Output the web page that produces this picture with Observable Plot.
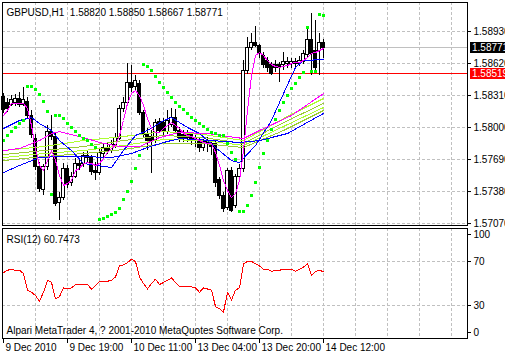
<!DOCTYPE html>
<html><head><meta charset="utf-8">
<script src="https://cdn.jsdelivr.net/npm/d3@7"></script>
<script src="https://cdn.jsdelivr.net/npm/@observablehq/plot@0.6"></script>
<style>
body{margin:0;background:#fff;}
#wrap{position:relative;width:505px;height:355px;overflow:hidden;background:#fff;}
#wrap svg{position:absolute;left:0;}
.tag{position:absolute;left:470px;width:35px;height:11px;font:10px "Liberation Sans",Arial,sans-serif;line-height:11px;padding-left:2px;color:#fff;white-space:nowrap;overflow:hidden;}
</style></head><body><div id="wrap"></div>
<script>
// ---- data ----
const symbol = "GBPUSD,H1";
const lastOHLC = ["1.58820", "1.58850", "1.58667", "1.58771"];
const open = [1.58291,1.58233,1.58223,1.58233,1.58281,1.58223,1.58252,1.58116,1.57893,1.57622,
 1.57399,1.57622,1.57961,1.57913,1.57273,1.57322,1.57603,1.57458,1.57525,1.57651,
 1.57642,1.57729,1.57700,1.57583,1.57564,1.57748,1.57806,1.57777,1.57826,1.57893,
 1.58184,1.58233,1.58436,1.58388,1.58426,1.58145,1.57942,1.57913,1.57874,1.58058,
 1.58048,1.57952,1.58029,1.58097,1.57971,1.57932,1.57903,1.57923,1.57893,1.57855,
 1.57797,1.57874,1.57845,1.57845,1.57487,1.57341,1.57225,1.57583,1.57244,1.57516,
 1.57603,1.58552,1.58775,1.58823,1.58785,1.58688,1.58649,1.58601,1.58601,1.58601,
 1.58601,1.58620,1.58611,1.58630,1.58620,1.58630,1.58698,1.58843,1.58746,1.58746,
 1.58820];
const close = [1.58165,1.58184,1.58271,1.58281,1.58223,1.58262,1.58116,1.57923,1.57622,1.57409,
 1.57613,1.57961,1.57913,1.57264,1.57322,1.57603,1.57448,1.57525,1.57651,1.57632,
 1.57729,1.57700,1.57574,1.57564,1.57758,1.57806,1.57777,1.57835,1.57903,1.58184,
 1.58233,1.58436,1.58378,1.58455,1.58145,1.57923,1.57874,1.57874,1.58048,1.57971,
 1.57971,1.58068,1.58097,1.57971,1.57903,1.57903,1.57932,1.57893,1.57874,1.57797,
 1.57855,1.57845,1.57816,1.57458,1.57341,1.57215,1.57583,1.57196,1.57516,1.57603,
 1.58552,1.58775,1.58823,1.58794,1.58717,1.58601,1.58572,1.58523,1.58572,1.58572,
 1.58630,1.58630,1.58630,1.58611,1.58649,1.58717,1.58843,1.58717,1.58581,1.58814,
 1.58771];
const high = [1.58329,1.58281,1.58310,1.58320,1.58339,1.58388,1.58291,1.58165,1.57932,1.57661,
 1.57642,1.58019,1.58116,1.57952,1.57370,1.57651,1.57632,1.57564,1.57700,1.57700,
 1.57758,1.57777,1.57729,1.57661,1.57797,1.57835,1.57845,1.57874,1.57942,1.58213,
 1.58291,1.58620,1.58601,1.58504,1.58455,1.58165,1.57990,1.57971,1.58078,1.58087,
 1.58087,1.58165,1.58184,1.58174,1.58000,1.57971,1.57971,1.57952,1.57923,1.57893,
 1.57884,1.57903,1.57874,1.57874,1.57516,1.57370,1.57603,1.57613,1.57545,1.57642,
 1.58649,1.58872,1.58911,1.58978,1.58804,1.58727,1.58678,1.58630,1.58649,1.58630,
 1.58727,1.58678,1.58668,1.58668,1.58688,1.58746,1.58969,1.59104,1.59037,1.58911,
 1.58850];
const low = [1.58136,1.58145,1.58204,1.58204,1.58194,1.58204,1.58087,1.57893,1.57583,1.57370,
 1.57341,1.57583,1.57874,1.57235,1.57099,1.57293,1.57409,1.57428,1.57506,1.57583,
 1.57613,1.57651,1.57535,1.57487,1.57535,1.57709,1.57738,1.57748,1.57797,1.57874,
 1.58145,1.58213,1.58339,1.58358,1.58116,1.57893,1.57777,1.57554,1.57845,1.57942,
 1.57923,1.57932,1.58000,1.57942,1.57855,1.57855,1.57855,1.57826,1.57806,1.57758,
 1.57768,1.57758,1.57729,1.57419,1.57303,1.57177,1.57196,1.57177,1.57215,1.57487,
 1.57564,1.58513,1.58746,1.58775,1.58668,1.58572,1.58533,1.58504,1.58533,1.58436,
 1.58552,1.58572,1.58572,1.58582,1.58591,1.58611,1.58668,1.58504,1.58533,1.58504,
 1.58667];
const maFast = [1.58116,1.58165,1.58233,1.58233,1.58233,1.58233,1.58184,1.58019,1.57797,1.57632,
 1.57583,1.57680,1.57777,1.57680,1.57535,1.57438,1.57458,1.57487,1.57583,1.57603,
 1.57651,1.57661,1.57651,1.57632,1.57651,1.57700,1.57758,1.57797,1.57826,1.57923,
 1.58068,1.58233,1.58329,1.58358,1.58310,1.58213,1.58087,1.57990,1.57952,1.57952,
 1.57990,1.58019,1.58048,1.58019,1.57990,1.57942,1.57923,1.57913,1.57893,1.57874,
 1.57855,1.57845,1.57845,1.57758,1.57632,1.57487,1.57390,1.57322,1.57360,1.57487,
 1.57777,1.58165,1.58504,1.58698,1.58727,1.58698,1.58649,1.58611,1.58591,1.58582,
 1.58591,1.58601,1.58620,1.58630,1.58630,1.58649,1.58678,1.58717,1.58727,1.58746,
 1.58765];
const sar = [1.57874,1.57923,1.57961,1.58000,1.58039,1.58068,1.58397,1.58397,1.58368,1.58320,
 1.58252,1.58155,1.57351,1.58116,1.58116,1.58087,1.58039,1.58000,1.57961,1.57923,
 1.57893,1.57874,1.57835,1.57806,1.57109,1.57118,1.57138,1.57157,1.57177,1.57215,
 1.57303,1.57380,1.57477,1.57603,1.57729,1.58611,1.58591,1.58552,1.58494,1.58436,
 1.58388,1.58339,1.58291,1.58242,1.58204,1.58174,1.58136,1.58097,1.58068,1.58039,
 1.58010,1.57981,1.57952,1.57942,1.57923,1.57923,1.57845,1.57758,1.57690,1.57186,
 1.57186,1.57244,1.57341,1.57467,1.57613,1.57748,1.57874,1.57981,1.58078,1.58165,
 1.58242,1.58310,1.58378,1.58426,1.58484,1.58533,1.58969,1.58543,1.58543,1.59095,
 1.59085];
const rsi = [60,62,63,62,62,59,44,42,39,34,
 42,53,51,36,38,46,45,46,49,49,
 49,49,45,48,52,52,52,53,56,66,
 67,69,72,70,56,50,45,50,54,49,
 51,53,55,51,47,47,47,47,46,42,
 46,45,44,29,27,24,42,35,44,46,
 68,70,70,68,66,63,63,61,62,62,
 63,63,63,61,63,65,68,57,61,62,
 60.7473];
const maSlowIdx = [0,4,9,12,14,20,24,29,34,39,44,51,60,64,72,80];
const maSlow = [1.57777,1.57797,1.57874,1.57942,1.57961,1.57903,1.57855,1.57816,1.57816,1.57903,1.57952,1.57942,1.57893,1.57971,1.58116,1.58329];
const blueFastIdx = [0,4,7,9,12,14,17,20,27,30,33,36,40,42,46,49,53,57,59,63,67,70,73,75,80];
const blueFast = [1.57990,1.58068,1.58097,1.58039,1.57971,1.57874,1.57777,1.57651,1.57613,1.57777,1.57923,1.57971,1.58068,1.58097,1.58000,1.57942,1.57806,1.57680,1.57661,1.57826,1.58068,1.58329,1.58582,1.58649,1.58659];
const blueSlowIdx = [0,4,9,14,20,27,32,36,40,44,52,59,64,71,80];
const blueSlow = [1.57564,1.57632,1.57709,1.57719,1.57719,1.57709,1.57748,1.57806,1.57855,1.57893,1.57874,1.57855,1.57874,1.57942,1.58136];
const limeIdx = [0,10,20,30,40,50,60,70,80];
const lime1 = [1.57777,1.57816,1.57874,1.57913,1.57961,1.57932,1.57874,1.58087,1.58281];
const lime2 = [1.57738,1.57777,1.57816,1.57874,1.57923,1.57903,1.57845,1.58048,1.58233];
const lime3 = [1.57709,1.57748,1.57777,1.57826,1.57884,1.57874,1.57826,1.58010,1.58194];
const lime4 = [1.57680,1.57719,1.57748,1.57787,1.57845,1.57845,1.57806,1.57971,1.58165];
const priceTicks = [1.58930,1.58620,1.58310,1.58000,1.57690,1.57380,1.57070];
const bidPrice = 1.58771;
const levelPrice = 1.58519;
const rsiGrid = [30,70];
const gridIdx = [8,16,24,32,40,48,56,64,72,80,88,96,104,112];
const timeIdx = [0,16,32,48,64,80];
const timeLabels = ["9 Dec 2010","9 Dec 19:00","10 Dec 11:00","13 Dec 04:00","13 Dec 20:00","14 Dec 12:00"];
const rsiTitle = "RSI(12) 60.7473";
const footer = "Alpari MetaTrader 4, ? 2001-2010 MetaQuotes Software Corp.";

// ---- build ----
const FONT = '"Liberation Sans", Arial, sans-serif';
const bars = open.map((o,i)=>({i, o, c:close[i], h:high[i], l:low[i], up: close[i] >= open[i], sar: sar[i], ma: maFast[i], rsi: rsi[i]}));
const pts = (idx, vals) => idx.map((i,k)=>({i, v: vals[k]}));
const xDom = [-0.25, 116];
const dash = "3,2";
const ln = (data, y, stroke) => Plot.line(data, {x: "i", y, stroke, strokeWidth: 1, shapeRendering: "crispEdges"});

const main = Plot.plot({
  width: 505, height: 227, marginTop: 2, marginBottom: 2, marginLeft: 2, marginRight: 38,
  x: {type: "linear", domain: xDom, axis: null},
  y: {domain: [1.57051, 1.59211], axis: null},
  style: {fontFamily: FONT, fontSize: "10px", color: "black", background: "transparent"},
  marks: [
    Plot.ruleX(gridIdx, {stroke: "#c0c0c0", strokeDasharray: dash, shapeRendering: "crispEdges"}),
    Plot.ruleY(priceTicks, {stroke: "#c0c0c0", strokeDasharray: dash, shapeRendering: "crispEdges"}),
    Plot.ruleY([bidPrice], {stroke: "#c0c0c0", shapeRendering: "crispEdges"}),
    Plot.ruleY([levelPrice], {stroke: "#ff0000", shapeRendering: "crispEdges"}),
    Plot.ruleX(bars, {x: "i", y1: "l", y2: "h", stroke: "black", shapeRendering: "crispEdges"}),
    Plot.rect(bars.filter(d=>d.up), {x1: d=>d.i-0.375, x2: d=>d.i+0.375, y1: "o", y2: "c", fill: "white", stroke: "black", shapeRendering: "crispEdges"}),
    Plot.rect(bars.filter(d=>!d.up), {x1: d=>d.i-0.375, x2: d=>d.i+0.375, y1: "o", y2: "c", fill: "black", stroke: "black", shapeRendering: "crispEdges"}),
    ln(pts(limeIdx, lime4), "v", "#9acd32"),
    ln(pts(limeIdx, lime3), "v", "#adff2f"),
    ln(pts(limeIdx, lime2), "v", "#9acd32"),
    ln(pts(limeIdx, lime1), "v", "#adff2f"),
    ln(pts(blueSlowIdx, blueSlow), "v", "#0000ff"),
    ln(pts(blueFastIdx, blueFast), "v", "#0000ff"),
    ln(pts(maSlowIdx, maSlow), "v", "#ff00ff"),
    ln(bars, "ma", "#ff00ff"),
    Plot.dot(bars, {x: "i", y: "sar", symbol: "square", r: 1.9, fill: "#00ff00", shapeRendering: "crispEdges"}),
    Plot.axisY(priceTicks, {anchor: "right", label: null, tickSize: 3, tickPadding: 3, tickFormat: d=>d.toFixed(5)}),
    Plot.frame({stroke: "black", shapeRendering: "crispEdges"}),
    Plot.text([`${symbol}  ${lastOHLC.join(" ")}`], {frameAnchor: "top-left", dx: 4, dy: 6, fill: "black"})
  ]
});
main.style.top = "0px";

const sub = Plot.plot({
  width: 505, height: 128, marginTop: 1, marginBottom: 17, marginLeft: 2, marginRight: 38,
  x: {type: "linear", domain: xDom, axis: null},
  y: {domain: [0, 100], axis: null},
  style: {fontFamily: FONT, fontSize: "10px", color: "black", background: "transparent"},
  marks: [
    Plot.ruleX(gridIdx, {stroke: "#c0c0c0", strokeDasharray: dash, shapeRendering: "crispEdges"}),
    Plot.ruleY(rsiGrid, {stroke: "#c0c0c0", strokeDasharray: dash, shapeRendering: "crispEdges"}),
    ln(bars, "rsi", "#ff0000"),
    Plot.axisY(rsiGrid, {anchor: "right", label: null, tickSize: 3, tickPadding: 3}),
    Plot.axisY([100], {anchor: "right", label: null, tickSize: 3, tickPadding: 3, dy: 6}),
    Plot.axisY([0], {anchor: "right", label: null, tickSize: 3, tickPadding: 3, dy: -6}),
    Plot.axisX(timeIdx, {anchor: "bottom", label: null, tickSize: 5, tickFormat: () => ""}),
    Plot.axisX(timeIdx, {anchor: "bottom", label: null, tickSize: 0, tickPadding: 5, textAnchor: "start", dx: 2, tickFormat: d => timeLabels[timeIdx.indexOf(d)]}),
    Plot.frame({stroke: "black", shapeRendering: "crispEdges"}),
    Plot.text([rsiTitle], {frameAnchor: "top-left", dx: 4, dy: 7, fill: "black"}),
    Plot.text([footer], {frameAnchor: "bottom-left", dx: 4, dy: -5, fill: "black"})
  ]
});
sub.style.top = "227px";

const wrap = document.getElementById("wrap");
wrap.appendChild(main);
wrap.appendChild(sub);

const ys = main.scale("y");
function tag(value, bg) {
  const d = document.createElement("div");
  d.className = "tag";
  d.style.background = bg;
  d.style.top = (ys.apply(value) - 5) + "px";
  d.textContent = value.toFixed(5);
  wrap.appendChild(d);
}
tag(bidPrice, "#000000");
tag(levelPrice, "#ff0000");
</script>
</body></html>
